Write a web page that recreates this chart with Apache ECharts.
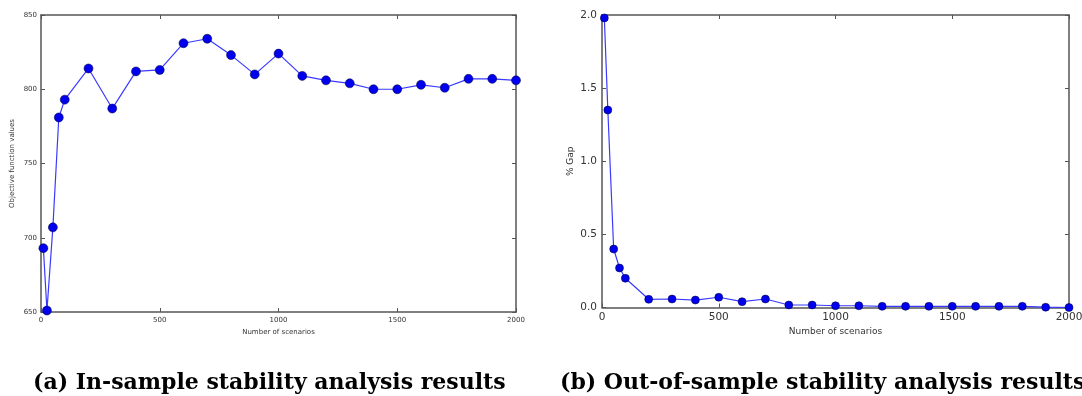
<!DOCTYPE html>
<html>
<head>
<meta charset="utf-8">
<script src="https://cdn.jsdelivr.net/npm/echarts@6/dist/echarts.min.js"></script>
<style>
html,body{margin:0;padding:0;background:#fff;}
#c{width:1082px;height:396px;}
</style>
</head>
<body>
<div id="c"></div>
<script>
// Data
const scenarios = [10, 25, 50, 75, 100, 200, 300, 400, 500, 600, 700, 800, 900, 1000, 1100, 1200, 1300, 1400, 1500, 1600, 1700, 1800, 1900, 2000];
const inSampleObjective = [693, 651, 707, 781, 793, 814, 787, 812, 813, 831, 834, 823, 810, 824, 809, 806, 804, 800, 800, 803, 801, 807, 807, 806];
const outSampleGap = [1.98, 1.35, 0.40, 0.27, 0.20, 0.056, 0.058, 0.051, 0.07, 0.04, 0.058, 0.017, 0.017, 0.012, 0.012, 0.008, 0.008, 0.008, 0.008, 0.008, 0.008, 0.008, 0.002, 0.0];
const captionA = '(a) In-sample stability analysis results';
const captionB = '(b) Out-of-sample stability analysis results';
const xName = 'Number of scenarios';
const yNameA = 'Objective function values';
const yNameB = '% Gap';

const chart = echarts.init(document.getElementById('c'), null, {renderer: 'canvas'});
const frameColor = '#555';
const txt = '#333';
const FONT = 'DejaVu Sans';

function frameAxis(extra) {
  return Object.assign({
    axisLine: {show: true, onZero: false, lineStyle: {color: frameColor, width: 1.5}},
    axisTick: {show: true, inside: true, length: 4, lineStyle: {color: frameColor, width: 1}},
    splitLine: {show: false},
    axisLabel: {show: false}
  }, extra);
}
const plain = v => String(v);

const pairA = scenarios.map((s, i) => [s, inSampleObjective[i]]);
const pairB = scenarios.map((s, i) => [s, outSampleGap[i]]);

const option = {
  animation: false,
  backgroundColor: '#fff',
  grid: [
    {left: 41, top: 15, width: 475, height: 297, containLabel: false, outerBoundsMode: 'none'},
    {left: 602, top: 15, width: 467, height: 292.5, containLabel: false, outerBoundsMode: 'none'}
  ],
  xAxis: [
    frameAxis({type: 'value', gridIndex: 0, min: 0, max: 2000, interval: 500, position: 'bottom',
      axisLabel: {show: true, fontFamily: FONT, fontSize: 7, color: txt, margin: 5, formatter: plain},
      name: xName, nameLocation: 'middle', nameGap: 17,
      nameTextStyle: {fontFamily: FONT, fontSize: 7, color: txt}}),
    frameAxis({type: 'value', gridIndex: 0, min: 0, max: 2000, interval: 500, position: 'top'}),
    frameAxis({type: 'value', gridIndex: 1, min: 0, max: 2000, interval: 500, position: 'bottom',
      axisLabel: {show: true, fontFamily: FONT, fontSize: 10.5, color: txt, margin: 4, formatter: plain},
      name: xName, nameLocation: 'middle', nameGap: 20,
      nameTextStyle: {fontFamily: FONT, fontSize: 9, color: txt}}),
    frameAxis({type: 'value', gridIndex: 1, min: 0, max: 2000, interval: 500, position: 'top'})
  ],
  yAxis: [
    frameAxis({type: 'value', gridIndex: 0, min: 650, max: 850, interval: 50, position: 'left',
      axisLabel: {show: true, fontFamily: FONT, fontSize: 7, color: txt, margin: 4, formatter: plain},
      name: yNameA, nameLocation: 'middle', nameGap: 25,
      nameTextStyle: {fontFamily: FONT, fontSize: 7, color: txt}}),
    frameAxis({type: 'value', gridIndex: 0, min: 650, max: 850, interval: 50, position: 'right'}),
    frameAxis({type: 'value', gridIndex: 1, min: 0, max: 2, interval: 0.5, position: 'left',
      axisLabel: {show: true, fontFamily: FONT, fontSize: 10.5, color: txt, margin: 5,
        formatter: v => v.toFixed(1)},
      name: yNameB, nameLocation: 'middle', nameGap: 27,
      nameTextStyle: {fontFamily: FONT, fontSize: 9, color: txt}}),
    frameAxis({type: 'value', gridIndex: 1, min: 0, max: 2, interval: 0.5, position: 'right'})
  ],
  series: [
    {type: 'line', xAxisIndex: 0, yAxisIndex: 0, data: pairA, symbol: 'circle', symbolSize: 9,
      lineStyle: {color: '#3a3aff', width: 1.2},
      itemStyle: {color: '#0000ee', borderColor: '#000033', borderWidth: 0.5}, z: 3},
    {type: 'line', xAxisIndex: 2, yAxisIndex: 2, data: pairB, symbol: 'circle', symbolSize: 8,
      lineStyle: {color: '#3a3aff', width: 1.2},
      itemStyle: {color: '#0000ee', borderColor: '#000033', borderWidth: 0.5}, z: 3}
  ],
  graphic: [
    {type: 'text', left: 33, top: 372, style: {text: captionA, font: 'bold 22px "DejaVu Serif"', fill: '#000'}},
    {type: 'text', left: 560, top: 372, style: {text: captionB, font: 'bold 22px "DejaVu Serif"', fill: '#000'}}
  ]
};
chart.setOption(option);
</script>
</body>
</html>
